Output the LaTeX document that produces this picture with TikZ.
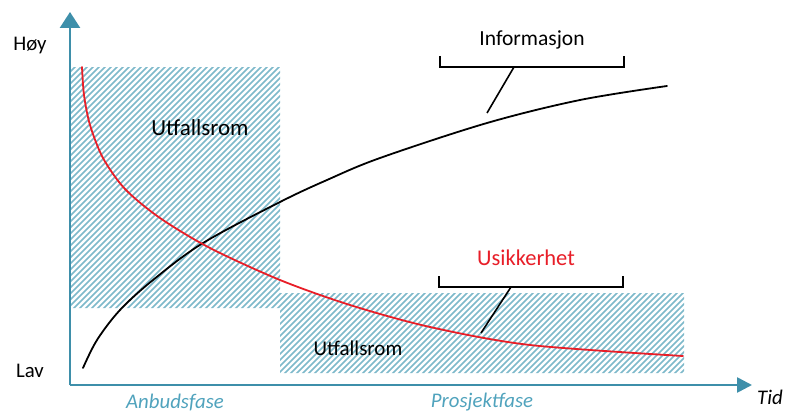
\documentclass[tikz,border=0pt]{standalone}
\usepackage{fontspec}
\setmainfont{Carlito}
\usetikzlibrary{arrows.meta}
\definecolor{axisteal}{RGB}{62,143,170}
\definecolor{phaseteal}{RGB}{80,163,189}
\definecolor{hatchteal}{RGB}{125,185,202}
\definecolor{riskred}{RGB}{232,30,40}
\tikzset{
  axisline/.style={draw=axisteal, line width=2.6pt},
  hatchline/.style={draw=hatchteal, line width=1.6pt},
  curveline/.style={line width=1.8pt, line cap=round},
  bracketline/.style={draw=black, line width=1.6pt},
  lbl/.style={font=\fontsize{20.8}{25}\selectfont, inner sep=0pt},
  phaselbl/.style={lbl, font=\fontsize{20.8}{25}\selectfont\itshape, text=phaseteal},
}
\begin{document}
\begin{tikzpicture}[x=1pt,y=-1pt]
\useasboundingbox (0,0) rectangle (794,412);
\fill[white] (0,0) rectangle (794,412);

% hatched outcome regions
\begin{scope}
  \clip (70,67) rectangle (280,308) (280,293) rectangle (684,373);
  \foreach \c in {130,136,...,1070}
    \draw[hatchline] (\c-420,420) -- (\c,0);
\end{scope}

% axes
\coordinate (O) at (70,385);
\coordinate (ytip) at (70,12);
\coordinate (xtip) at (752,385);
\draw[axisline, -{Triangle[length=16pt,width=20pt]}] (O) -- (ytip);
\draw[axisline, -{Triangle[length=15pt,width=15pt]}] (O) -- (xtip);

% information curve
\draw[curveline, black] plot[smooth, tension=0.55] coordinates {
  (83,368) (97,340) (120,310) (153,280) (203,243) (280,202)
  (327,180) (380,158) (487,123) (580,100) (667,86)};

% uncertainty curve
\draw[curveline, riskred] plot[smooth, tension=0.5] coordinates {
  (82,67) (84,95) (90,125) (103,158) (125,189) (160,218) (210,248)
  (280,280) (350,305) (430,327) (530,345) (683,356)};

% axis labels
\node[lbl] (hoy) at (30,46) {Høy};
\node[lbl] (lav) at (30,371) {Lav};
\node[lbl, font=\fontsize{20.8}{25}\selectfont\itshape] (tid) at (770,397) {Tid};
\node[phaselbl] (anbud) at (175,402) {Anbudsfase};
\node[phaselbl] (prosjekt) at (482,402) {Prosjektfase};

% region labels
\node[lbl, font=\fontsize{23}{27}\selectfont] (utf1) at (200,128) {Utfallsrom};
\node[lbl, font=\fontsize{21}{25}\selectfont] (utf2) at (358,348) {Utfallsrom};

% curve labels with brackets and leaders
\node[lbl, font=\fontsize{21.5}{26}\selectfont] (info) at (532,40) {Informasjon};
\node[lbl, text=riskred, font=\fontsize{22.5}{27}\selectfont] (usik) at (526,258) {Usikkerhet};

\coordinate (ib) at (514,67);
\coordinate (ic) at (487,113);
\draw[bracketline] (440,56) -- (440,67) -- (624,67) -- (624,56);
\draw[bracketline] (ib) -- (ic);

\coordinate (ub) at (511,287);
\coordinate (uc) at (481,333);
\draw[bracketline] (439,276) -- (439,287) -- (623,287) -- (623,276);
\draw[bracketline] (ub) -- (uc);
\end{tikzpicture}
\end{document}
